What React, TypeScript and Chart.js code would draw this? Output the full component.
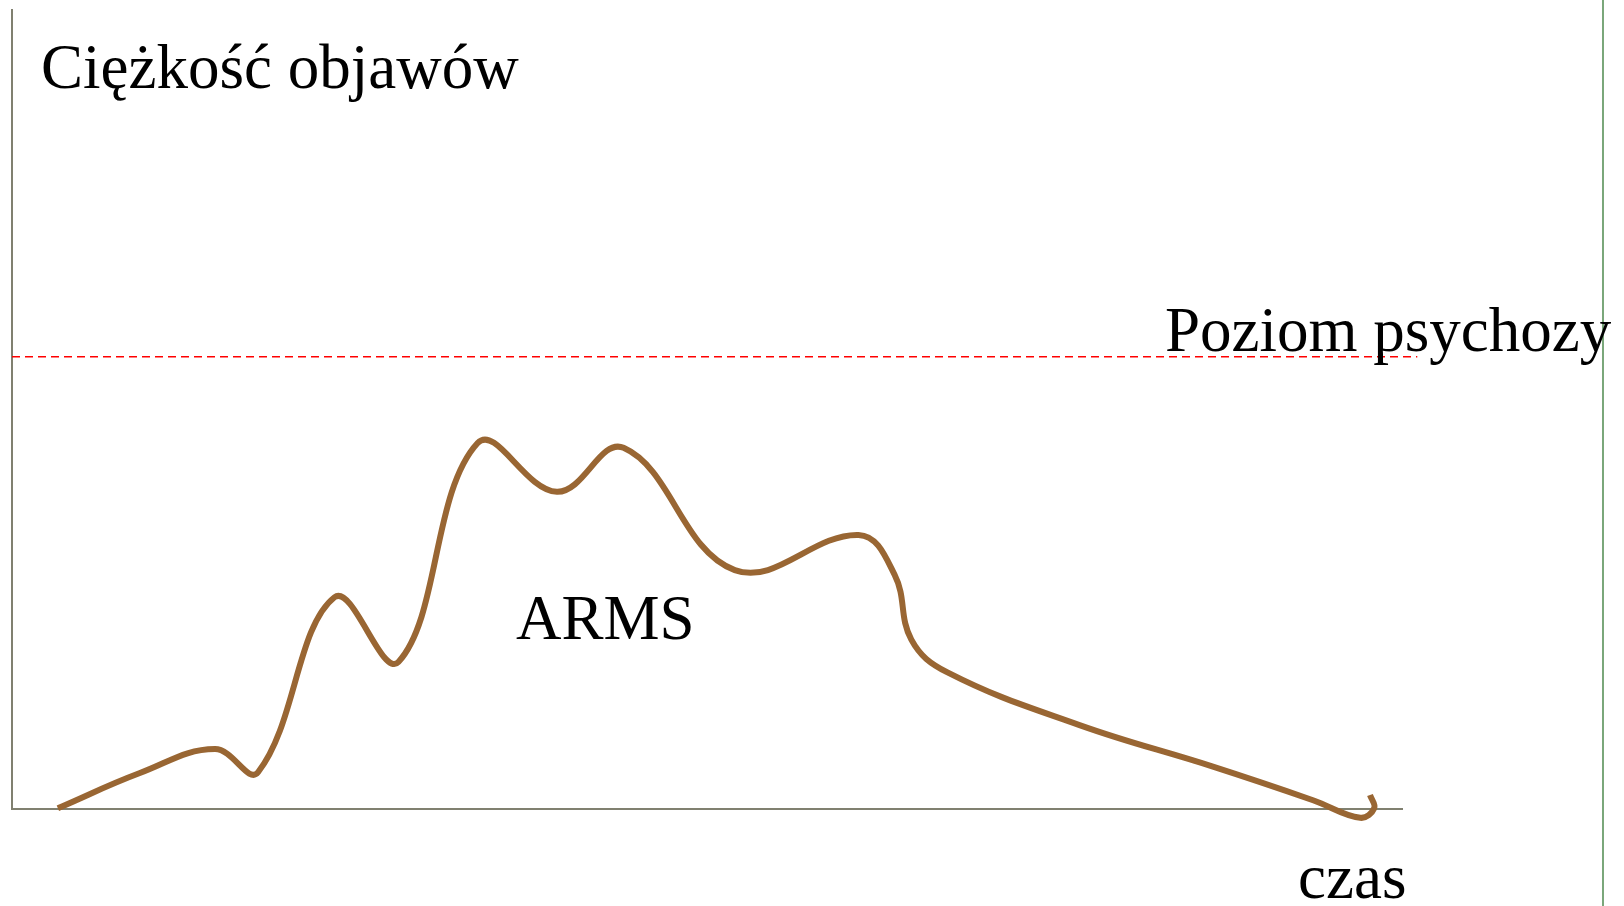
import React, { useEffect, useRef } from "react";
import { Chart, registerables } from "chart.js";

Chart.register(...registerables);

// Curve (ARMS symptom severity over time)
const timeValues = [3.3, 9.2, 14.6, 17.7, 23.2, 27.8, 33.5, 39.2, 44.0, 52.0, 60.9, 63.5, 64.7, 67.3, 76.8, 86.4, 93.6, 97.0, 98.0, 97.7];
const severityValues = [0.1, 4.5, 7.5, 4.6, 26.5, 18.4, 45.8, 39.7, 45.2, 29.9, 34.3, 29.3, 21.2, 17.1, 10.5, 5.3, 1.1, -1.1, 0.1, 1.75];

// Psychosis threshold
const thresholdX = [0, 101.1];
const psychosisLevel = 56.6;

// Right-hand vertical frame line
const frameX = 114.46;
const frameY = [-12.2, 101.3];

// Labels
const yAxisLabel = "Ciężkość objawów";
const xAxisLabel = "czas";
const thresholdLabel = "Poziom psychozy";
const curveLabel = "ARMS";

const W = 1624;
const H = 906;

export default function App() {
  const ref = useRef<HTMLCanvasElement | null>(null);

  useEffect(() => {
    if (!ref.current) return;
    const textPlugin = {
      id: "labels",
      afterDatasetsDraw(chart: any) {
        const ctx = chart.ctx;
        ctx.save();
        ctx.fillStyle = "#000000";
        ctx.font = "63px 'Liberation Serif', 'Times New Roman', serif";
        ctx.textBaseline = "alphabetic";
        ctx.textAlign = "left";
        ctx.fillText(yAxisLabel, 41, 88);
        ctx.fillText(thresholdLabel, 1165, 351);
        ctx.fillText(curveLabel, 516, 639);
        ctx.fillText(xAxisLabel, 1298, 898);
        ctx.restore();
      },
    };

    const chart = new Chart(ref.current, {
      type: "scatter",
      data: {
        datasets: [
          {
            data: thresholdX.map((x) => ({ x, y: psychosisLevel })),
            showLine: true,
            borderColor: "#ff0000",
            borderWidth: 1.5,
            borderDash: [8, 5],
            pointRadius: 0,
            tension: 0,
            clip: false as any,
          },
          {
            data: timeValues.map((x, i) => ({ x, y: severityValues[i] })),
            showLine: true,
            borderColor: "#996633",
            borderWidth: 6,
            pointRadius: 0,
            tension: 0.4,
            borderCapStyle: "butt",
            borderJoinStyle: "round",
            clip: false as any,
          },
          {
            data: frameY.map((y) => ({ x: frameX, y })),
            showLine: true,
            borderColor: "#7aa77a",
            borderWidth: 2,
            pointRadius: 0,
            tension: 0,
            clip: false as any,
          },
        ],
      },
      options: {
        responsive: false,
        animation: false,
        layout: { autoPadding: false, padding: { left: 12, right: 222, top: 10, bottom: 97 } },
        plugins: {
          legend: { display: false },
          tooltip: { enabled: false },
        },
        scales: {
          x: {
            type: "linear",
            min: 0,
            max: 100,
            ticks: { display: false },
            grid: { display: false, drawTicks: false },
            border: { display: true, color: "#808070", width: 2 },
          },
          y: {
            type: "linear",
            min: 0,
            max: 100,
            ticks: { display: false },
            grid: { display: false, drawTicks: false },
            border: { display: true, color: "#808070", width: 2 },
          },
        },
      },
      plugins: [textPlugin],
    });
    return () => chart.destroy();
  }, []);

  return (
    <div style={{ position: "fixed", left: 0, top: 0, width: W, height: H, background: "#ffffff" }}>
      <canvas ref={ref} width={W} height={H} style={{ display: "block", width: W, height: H }} />
    </div>
  );
}
